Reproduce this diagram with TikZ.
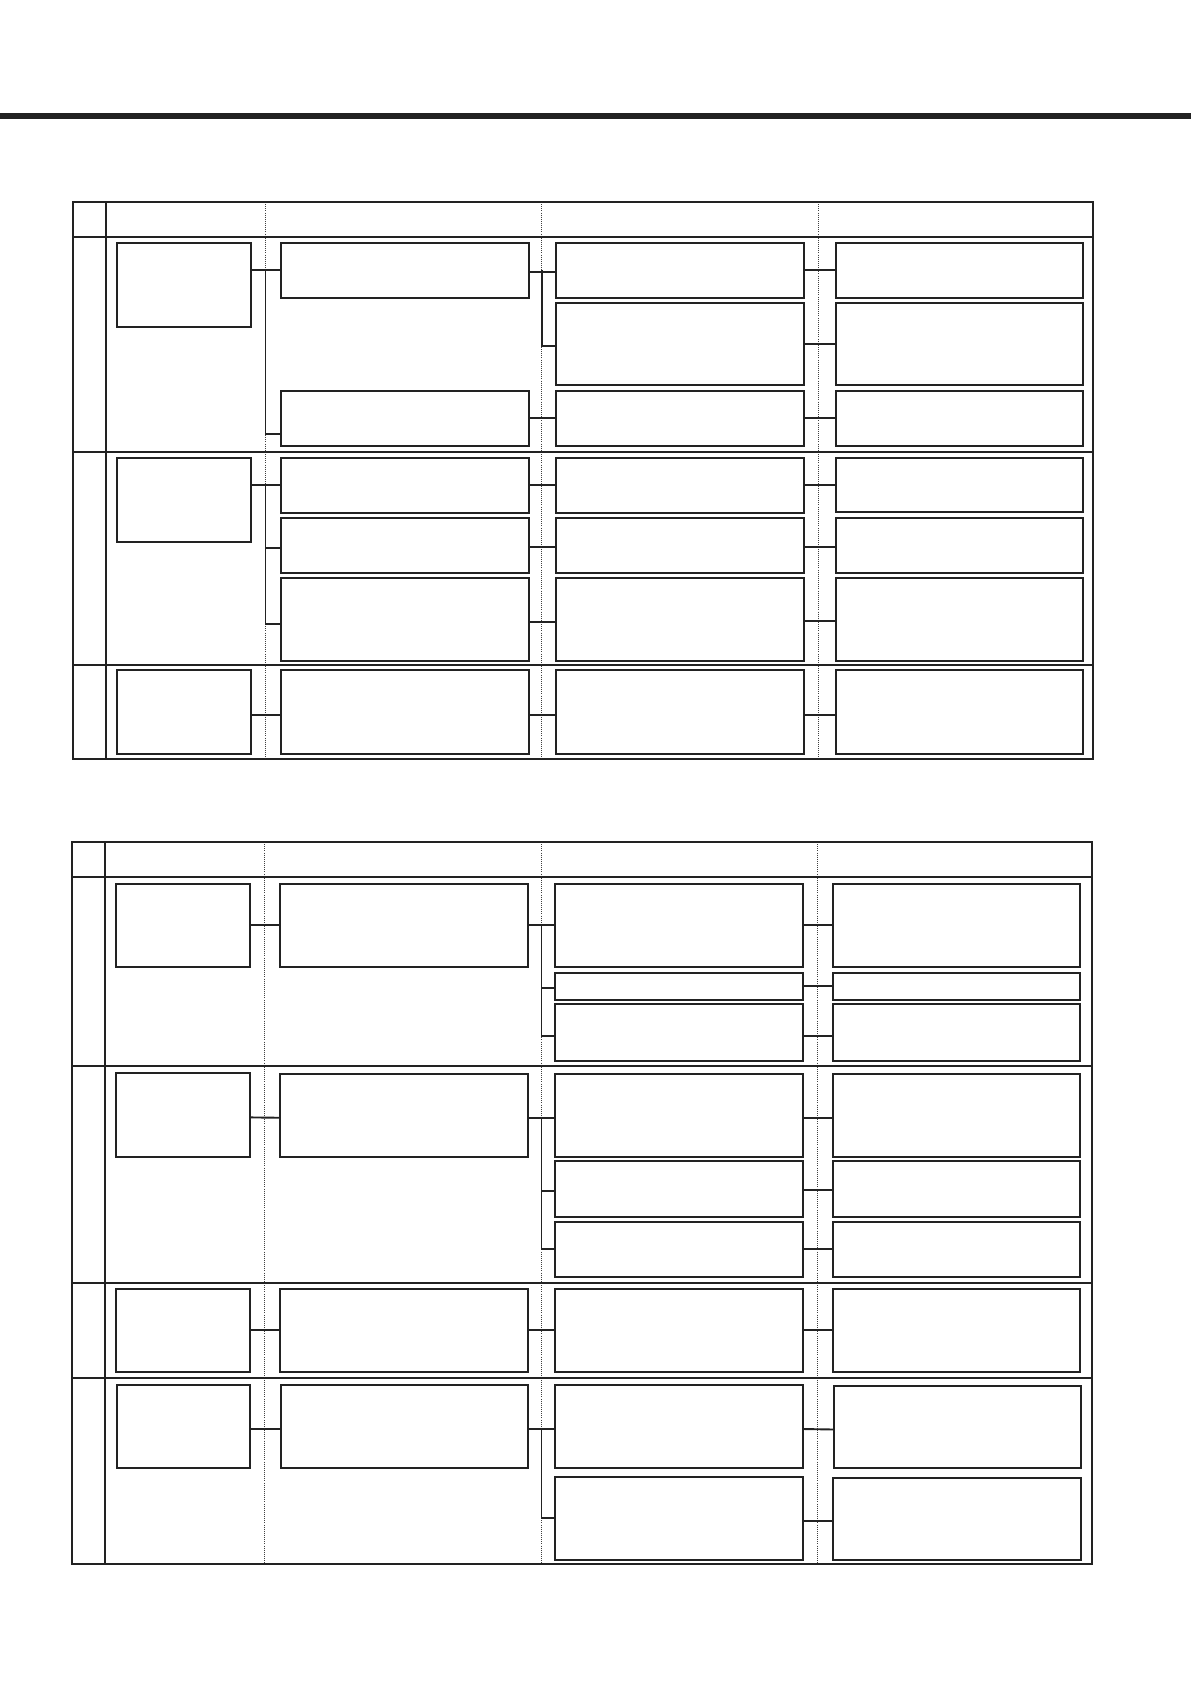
\documentclass[tikz,border=0pt]{standalone}
\usetikzlibrary{calc}
\definecolor{ink}{HTML}{222222}
\tikzset{
  bx/.style={draw=ink, line width=1.8pt, rectangle, inner sep=0pt, outer sep=0pt},
  conn/.style={draw=ink, line width=1.9pt},
  frame/.style={draw=ink, line width=1.6pt},
  guide/.style={draw=black!75, line width=0.8pt, dash pattern=on 1pt off 1.1pt},
  topbar/.style={draw=ink, line width=6.5pt}
}
\newcommand\mybox[5]{\node[bx, minimum width={#4-#2}, minimum height={#5-#3}] (#1) at ({(#2+#4)/2},{(#3+#5)/2}) {};}
\begin{document}
\begin{tikzpicture}[x=1pt,y=-1pt]
\useasboundingbox (0,0) rectangle (1191,1684);
% top rule
\coordinate (barL) at (0,116);
\coordinate (barR) at (1191,116);
\draw[topbar] (barL) -- (barR);

% ================= TABLE 1 =================
\coordinate (g11) at (265.5,0);
\coordinate (g12) at (542,0);
\coordinate (g13) at (818.7,0);
\draw[guide] (265.3,202) -- (265.3,759);
\draw[guide] (541.5,202) -- (541.5,759);
\draw[guide] (818.7,202) -- (818.7,759);
\draw[frame] (72.7,202) rectangle (1093,759);
\draw[frame] (105.7,202) -- (105.7,759);
\draw[frame] (72.7,237) -- (1093,237);
\draw[frame] (72.7,452) -- (1093,452);
\draw[frame] (72.7,665) -- (1093,665);

% row 1
\mybox{p1a}{117}{242.7}{251}{326.7}
\mybox{p1b1}{280.7}{242.7}{529}{297.7}
\mybox{p1b2}{280.7}{390.7}{529}{446}
\mybox{p1c1}{556}{242.7}{804.3}{297.7}
\mybox{p1c2}{556}{303}{804.3}{384.7}
\mybox{p1c3}{556}{390.7}{804.3}{446}
\mybox{p1d1}{835.7}{242.7}{1083.3}{297.7}
\mybox{p1d2}{835.7}{303}{1083.3}{384.7}
\mybox{p1d3}{835.7}{390.7}{1083.3}{446}
% row 2
\mybox{p2a}{117}{458}{251}{541.7}
\mybox{p2b1}{280.7}{458}{529}{512.7}
\mybox{p2b2}{280.7}{518}{529}{572.7}
\mybox{p2b3}{280.7}{577.7}{529}{660.7}
\mybox{p2c1}{556}{458}{804.3}{512.7}
\mybox{p2c2}{556}{518}{804.3}{572.7}
\mybox{p2c3}{556}{577.7}{804.3}{660.7}
\mybox{p2d1}{835.7}{458}{1083.3}{511.7}
\mybox{p2d2}{835.7}{518}{1083.3}{572.7}
\mybox{p2d3}{835.7}{577.7}{1083.3}{660.7}
% row 3
\mybox{p3a}{117}{670.3}{251}{753.7}
\mybox{p3b}{280.7}{670.3}{529}{753.7}
\mybox{p3c}{556}{670.3}{804.3}{753.7}
\mybox{p3d}{835.7}{670.3}{1083.3}{753.7}

% connectors table 1
\draw[conn] (p1a.east |- p1b1.west) -- (p1b1.west);
\draw[conn] (g11 |- p1b1.west) |- ([yshift=-16pt]p1b2.west);
\draw[conn] ([yshift=-1.5pt]p1b1.east) -- ([yshift=-1.5pt]p1c1.west);
\draw[conn] (g12 |- p1c1.west) |- ([yshift=-2pt]p1c2.west);
\draw[conn] (p1b2.east) -- (p1c3.west);
\draw[conn] (p1c1.east) -- (p1d1.west);
\draw[conn] (p1c2.east) -- (p1d2.west);
\draw[conn] (p1c3.east) -- (p1d3.west);

\draw[conn] (p2a.east |- p2b1.west) -- (p2b1.west);
\draw[conn] (g11 |- p2b1.west) |- ([yshift=-4.5pt]p2b3.west);
\draw[conn] ([yshift=-2.5pt]g11 |- p2b2.west) -- ([yshift=-2.5pt]p2b2.west);
\draw[conn] (p2b1.east) -- (p2c1.west);
\draw[conn] ([yshift=-2pt]p2b2.east) -- ([yshift=-2pt]p2c2.west);
\draw[conn] ([yshift=-3pt]p2b3.east) -- ([yshift=-3pt]p2c3.west);
\draw[conn] (p2c1.east) -- (p2d1.west |- p2c1.east);
\draw[conn] ([yshift=-2pt]p2c2.east) -- ([yshift=-2pt]p2d2.west);
\draw[conn] ([yshift=-2pt]p2c3.east) -- ([yshift=-2pt]p2d3.west);

\draw[conn] ([yshift=-3pt]p3a.east) -- ([yshift=-3pt]p3b.west);
\draw[conn] ([yshift=-3pt]p3b.east) -- ([yshift=-3pt]p3c.west);
\draw[conn] ([yshift=-3pt]p3c.east) -- ([yshift=-3pt]p3d.west);

% ================= TABLE 2 =================
\coordinate (g21) at (264.7,0);
\coordinate (g22) at (541.5,0);
\coordinate (g23) at (817.7,0);
\draw[guide] (264.7,842) -- (264.7,1564);
\draw[guide] (541,842) -- (541,1564);
\draw[guide] (817.7,842) -- (817.7,1564);
\draw[frame] (72,842) rectangle (1092,1564);
\draw[frame] (104.7,842) -- (104.7,1564);
\draw[frame] (72,877) -- (1092,877);
\draw[frame] (72,1065.7) -- (1092,1065.7);
\draw[frame] (72,1283) -- (1092,1283);
\draw[frame] (72,1378) -- (1092,1378);

% row 1
\mybox{q1a}{116}{883.7}{250}{966.7}
\mybox{q1b}{279.7}{883.7}{528.3}{966.7}
\mybox{q1c1}{554.7}{883.7}{802.7}{966.7}
\mybox{q1c2}{554.7}{972.7}{802.7}{1000}
\mybox{q1c3}{554.7}{1004.3}{802.7}{1060.7}
\mybox{q1d1}{833}{883.7}{1080.3}{966.7}
\mybox{q1d2}{833}{972.7}{1080.3}{1000}
\mybox{q1d3}{833}{1004.3}{1080.3}{1060.7}
% row 2
\mybox{q2a}{116}{1073}{250}{1157}
\mybox{q2b}{279.7}{1073.7}{528.3}{1157}
\mybox{q2c1}{554.7}{1073.7}{802.7}{1157}
\mybox{q2c2}{554.7}{1160.7}{802.7}{1217}
\mybox{q2c3}{554.7}{1222}{802.7}{1276.7}
\mybox{q2d1}{833}{1073.7}{1080.3}{1157}
\mybox{q2d2}{833}{1160.7}{1080.3}{1217}
\mybox{q2d3}{833}{1222}{1080.3}{1276.7}
% row 3
\mybox{q3a}{116}{1289}{250}{1371.7}
\mybox{q3b}{279.7}{1289}{528.3}{1371.7}
\mybox{q3c}{554.7}{1289}{802.7}{1371.7}
\mybox{q3d}{833}{1289}{1080.3}{1371.7}
% row 4
\mybox{q4a}{117}{1385}{250}{1468}
\mybox{q4b}{280.7}{1385}{528.3}{1468}
\mybox{q4c1}{554.7}{1385}{802.7}{1468}
\mybox{q4c2}{554.7}{1476.7}{802.7}{1559.7}
\mybox{q4d1}{834}{1386}{1081.3}{1468}
\mybox{q4d2}{833}{1478.3}{1081.3}{1559.7}

% connectors table 2
\draw[conn] (q1a.east) -- (q1b.west);
\draw[conn] (q1b.east) -- (q1c1.west);
\draw[conn] (g22 |- q1c1.west) |- ([yshift=-3.5pt]q1c3.west);
\draw[conn] ([yshift=-1.3pt]g22 |- q1c2.west) -- ([yshift=-1.3pt]q1c2.west);
\draw[conn] (q1c1.east) -- (q1d1.west);
\draw[conn] (q1c2.east) -- (q1d2.west);
\draw[conn] ([yshift=-3.5pt]q1c3.east) -- ([yshift=-3.5pt]q1d3.west);

\draw[conn] ([yshift=-2.4pt]q2a.east) -- ([yshift=-2.4pt]q2b.west);
\draw[conn] ([yshift=-2.4pt]q2b.east) -- ([yshift=-2.4pt]q2c1.west);
\draw[conn] ([yshift=-2.4pt]g22 |- q2c1.west) |- (q2c3.west);
\draw[conn] ([yshift=-1.8pt]g22 |- q2c2.west) -- ([yshift=-1.8pt]q2c2.west);
\draw[conn] ([yshift=-2.4pt]q2c1.east) -- ([yshift=-2.4pt]q2d1.west);
\draw[conn] ([yshift=-1.5pt]q2c2.east) -- ([yshift=-1.5pt]q2d2.west);
\draw[conn] (q2c3.east) -- (q2d3.west);

\draw[conn] (q3a.east) -- (q3b.west);
\draw[conn] (q3b.east) -- (q3c.west);
\draw[conn] (q3c.east) -- (q3d.west);

\draw[conn] ([yshift=-2.5pt]q4a.east) -- ([yshift=-2.5pt]q4b.west);
\draw[conn] ([yshift=-2.5pt]q4b.east) -- ([yshift=-2.5pt]q4c1.west);
\draw[conn] ([yshift=-2.5pt]g22 |- q4c1.west) |- (q4c2.west);
\draw[conn] ([yshift=-2.5pt]q4c1.east) -- ([yshift=-2.5pt]q4d1.west);
\draw[conn] ([yshift=-2.5pt]q4c2.east) -- ([yshift=-1.7pt]q4d2.west);
\end{tikzpicture}
\end{document}
